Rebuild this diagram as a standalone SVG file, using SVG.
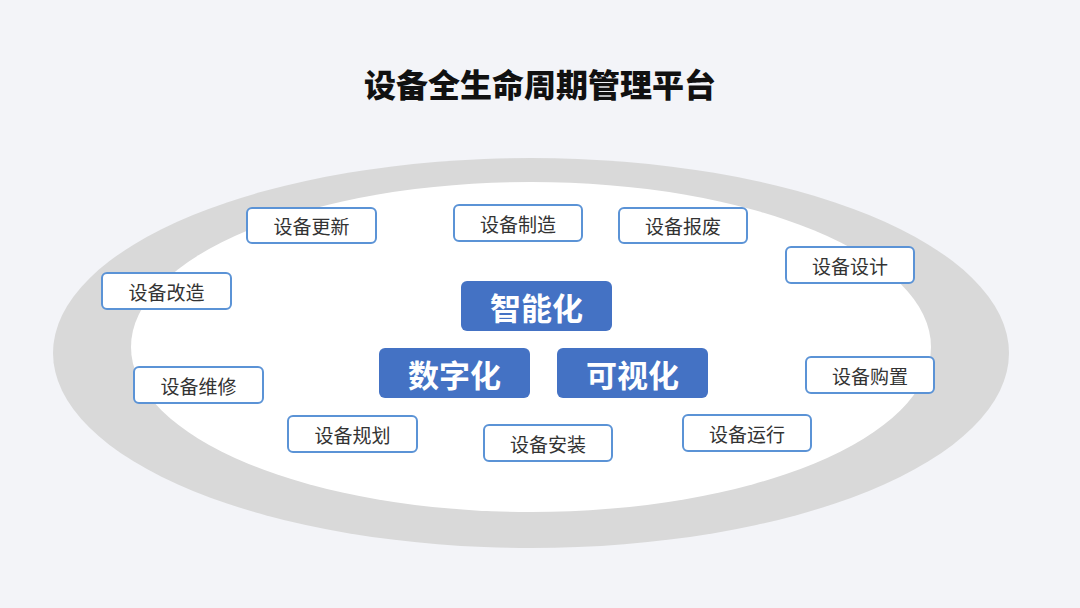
<svg xmlns="http://www.w3.org/2000/svg" width="1080" height="608" viewBox="0 0 1080 608">
<style>
.lbl{font-family:"Noto Sans CJK SC","Noto Sans",sans-serif;font-size:19px;fill:#333;text-anchor:middle;dominant-baseline:central}
.box{fill:#fff;stroke:#5b93d6;stroke-width:2}
.core{fill:#4472c4}
.ct{font-family:"Noto Sans CJK SC","Noto Sans",sans-serif;font-size:31px;font-weight:bold;fill:#fff;text-anchor:middle;dominant-baseline:central}
</style>
<rect width="1080" height="608" fill="#f3f4f8"/>
<text x="540" y="83" font-family="'Noto Sans CJK SC','Noto Sans',sans-serif" font-size="32" font-weight="900" fill="#111" text-anchor="middle" dominant-baseline="central">设备全生命周期管理平台</text>
<g id="ring">
<ellipse cx="531" cy="353" rx="478" ry="195" fill="#d9d9d9"/>
<ellipse cx="531" cy="347" rx="400" ry="165" fill="#fff"/>
</g>
<g id="connectors"></g>
<g id="n-gengxin"><rect class="box" x="247" y="208" width="129" height="35" rx="5"/><text class="lbl" x="311.5" y="225.5">设备更新</text></g>
<g id="n-zhizao"><rect class="box" x="454" y="205" width="128" height="36" rx="5"/><text class="lbl" x="518" y="223">设备制造</text></g>
<g id="n-baofei"><rect class="box" x="619" y="208" width="128" height="35" rx="5"/><text class="lbl" x="683" y="225.5">设备报废</text></g>
<g id="n-sheji"><rect class="box" x="786" y="247" width="128" height="36" rx="5"/><text class="lbl" x="850" y="265">设备设计</text></g>
<g id="n-gaizao"><rect class="box" x="102" y="273" width="129" height="36" rx="5"/><text class="lbl" x="166.5" y="291">设备改造</text></g>
<g id="n-weixiu"><rect class="box" x="134" y="367" width="129" height="36" rx="5"/><text class="lbl" x="198.5" y="385">设备维修</text></g>
<g id="n-guihua"><rect class="box" x="288" y="416" width="129" height="36" rx="5"/><text class="lbl" x="352.5" y="434">设备规划</text></g>
<g id="n-anzhuang"><rect class="box" x="484" y="425" width="128" height="36" rx="5"/><text class="lbl" x="548" y="443">设备安装</text></g>
<g id="n-yunxing"><rect class="box" x="683" y="415" width="128" height="36" rx="5"/><text class="lbl" x="747" y="433">设备运行</text></g>
<g id="n-gouzhi"><rect class="box" x="806" y="357" width="128" height="36" rx="5"/><text class="lbl" x="870" y="375">设备购置</text></g>
<g id="n-zhineng"><rect class="core" x="461" y="281" width="151" height="50" rx="6"/><text class="ct" x="536.5" y="306">智能化</text></g>
<g id="n-shuzi"><rect class="core" x="379" y="348" width="151" height="50" rx="6"/><text class="ct" x="454.5" y="373">数字化</text></g>
<g id="n-keshi"><rect class="core" x="557" y="348" width="151" height="50" rx="6"/><text class="ct" x="632.5" y="373">可视化</text></g>
</svg>
